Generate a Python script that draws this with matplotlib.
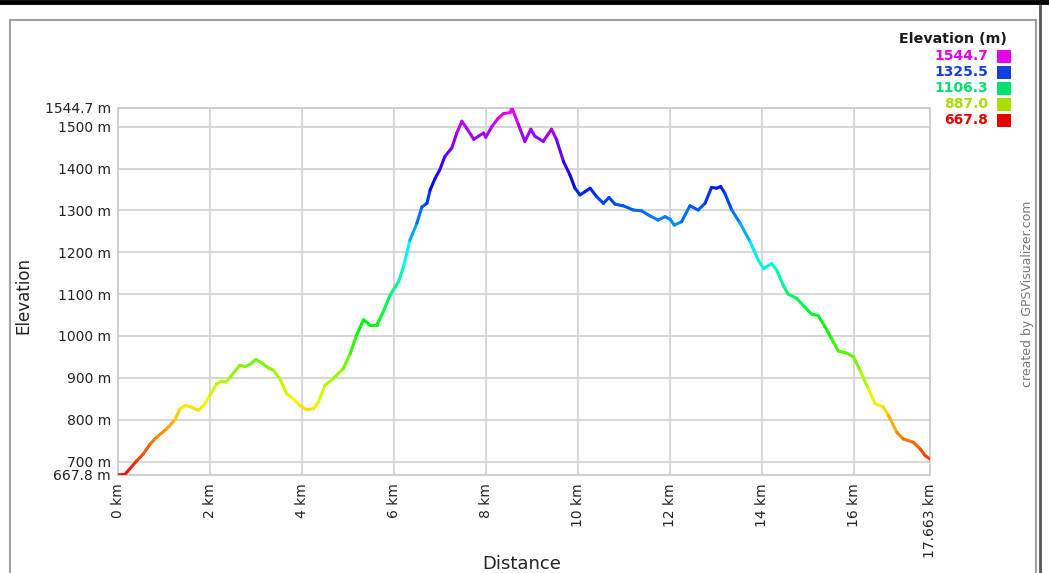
import matplotlib
matplotlib.use("Agg")
import matplotlib.pyplot as plt
import numpy as np
from matplotlib.collections import LineCollection
from matplotlib.colors import hsv_to_rgb
from matplotlib.patches import Rectangle
from matplotlib.lines import Line2D

# ---- data ----
distance_km = [0.00, 0.15, 0.26, 0.41, 0.55, 0.70, 0.84, 1.06, 1.24, 1.35, 1.46, 1.60, 1.75, 1.86,
               2.00, 2.15, 2.26, 2.35, 2.44, 2.65, 2.76, 2.87, 3.00, 3.13, 3.27, 3.38, 3.52, 3.67,
               3.81, 3.96, 4.10, 4.25, 4.36, 4.50, 4.68, 4.90, 5.05, 5.19, 5.34, 5.48, 5.63, 5.77,
               5.92, 6.10, 6.21, 6.35, 6.50, 6.61, 6.72, 6.79, 6.90, 7.00, 7.11, 7.26, 7.37, 7.48,
               7.58, 7.74, 7.95, 8.00, 8.13, 8.27, 8.38, 8.53, 8.57, 8.71, 8.85, 8.98, 9.07, 9.25,
               9.43, 9.54, 9.69, 9.83, 9.94, 10.05, 10.16, 10.27, 10.41, 10.56, 10.68, 10.81, 10.99,
               11.21, 11.39, 11.57, 11.75, 11.90, 12.01, 12.10, 12.26, 12.44, 12.62, 12.77, 12.91,
               13.02, 13.11, 13.20, 13.35, 13.53, 13.75, 13.93, 14.04, 14.22, 14.33, 14.47, 14.58,
               14.76, 14.94, 15.09, 15.23, 15.38, 15.52, 15.67, 15.85, 16.00, 16.14, 16.32, 16.47,
               16.65, 16.76, 16.94, 17.08, 17.30, 17.45, 17.56, 17.663]
elevation_m = [668, 669, 683, 702, 718, 742, 758, 778, 800, 826, 834, 830, 822, 834,
               858, 886, 892, 890, 902, 930, 927, 932, 944, 935, 924, 918, 898, 862,
               850, 834, 824, 826, 842, 882, 898, 922, 958, 1002, 1039, 1026, 1026, 1058,
               1098, 1129, 1165, 1229, 1269, 1308, 1317, 1349, 1377, 1397, 1429, 1449, 1485, 1513,
               1497, 1470, 1485, 1475, 1500, 1520, 1531, 1534, 1544.7, 1505, 1465, 1494, 1477, 1465,
               1494, 1469, 1417, 1385, 1353, 1337, 1345, 1353, 1333, 1317, 1331, 1315, 1311,
               1301, 1299, 1287, 1277, 1285, 1279, 1265, 1273, 1311, 1301, 1317, 1355,
               1353, 1357, 1341, 1301, 1270, 1225, 1181, 1161, 1173, 1157, 1121, 1100,
               1090, 1069, 1052, 1049, 1022, 994, 964, 959, 950, 918, 874, 838,
               830, 810, 770, 754, 746, 730, 714, 706]

elev_min = 667.8
elev_max = 1544.7
total_km = 17.663
x_ticks = [0, 2, 4, 6, 8, 10, 12, 14, 16, 17.663]
x_tick_labels = ["0 km", "2 km", "4 km", "6 km", "8 km", "10 km", "12 km", "14 km", "16 km", "17.663 km"]
y_ticks = [667.8, 700, 800, 900, 1000, 1100, 1200, 1300, 1400, 1500, 1544.7]
y_tick_labels = ["667.8 m", "700 m", "800 m", "900 m", "1000 m", "1100 m", "1200 m", "1300 m",
                 "1400 m", "1500 m", "1544.7 m"]
legend_values = ["1544.7", "1325.5", "1106.3", "887.0", "667.8"]
legend_colors = ["#e600e6", "#1040e0", "#00e070", "#aadd00", "#e60000"]

W, H = 1049, 573
plt.rcParams['font.family'] = ['DejaVu Sans']
fig = plt.figure(figsize=(W / 100, H / 100), dpi=100)
fig.patch.set_facecolor("white")


def fx(px):
    return px / W


def fy(py):
    return 1 - py / H


def elev_color(e):
    frac = (e - elev_min) / (elev_max - elev_min)
    frac = min(max(frac, 0), 1)
    return hsv_to_rgb([frac * 300 / 360, 1.0, 0.97])


# outer decoration
fig.add_artist(Line2D([0, 1], [fy(2), fy(2)], transform=fig.transFigure, color="black", lw=3.5))
fig.add_artist(Rectangle((fx(10), fy(600)), fx(1036) - fx(10), fy(20) - fy(600),
                         transform=fig.transFigure, fill=False, edgecolor="#a0a0a0", lw=1.5))
fig.add_artist(Line2D([fx(1040), fx(1040)], [0, fy(6)], transform=fig.transFigure, color="#555555", lw=2))

# axes
left, right, top, bottom = 118, 930, 108, 475
ax = fig.add_axes([fx(left), fy(bottom), fx(right) - fx(left), fy(top) - fy(bottom)])
ax.set_xlim(0, total_km)
ax.set_ylim(elev_min, elev_max)
for s in ax.spines.values():
    s.set_color("#cccccc")
    s.set_linewidth(1.3)

for xv in x_ticks[1:-1]:
    ax.axvline(xv, color="#d3d3d3", lw=1.3, zorder=1)
for yv in y_ticks[1:-1]:
    ax.axhline(yv, color="#d3d3d3", lw=1.3, zorder=1)

ax.set_xticks(x_ticks)
ax.set_xticklabels(x_tick_labels, rotation=90, fontsize=10, color="#222222")
ax.set_yticks(y_ticks)
ax.set_yticklabels(y_tick_labels, fontsize=10, color="#222222")
ax.tick_params(axis="both", length=0)
ax.tick_params(axis="x", pad=6)
ax.tick_params(axis="y", pad=5)

x = np.array(distance_km)
y = np.array(elevation_m)
pts = np.column_stack([x, y]).reshape(-1, 1, 2)
segs = np.concatenate([pts[:-1], pts[1:]], axis=1)
cols = [elev_color((a + b) / 2) for a, b in zip(y[:-1], y[1:])]
lc = LineCollection(segs, colors=cols, linewidths=2.2, capstyle="round", joinstyle="round", zorder=3)
ax.add_collection(lc)

# axis titles
fig.text(fx(23), fy(295), "Elevation", rotation=90, ha="center", va="center", fontsize=12, color="#222222")
fig.text(fx(522), fy(564), "Distance", ha="center", va="center", fontsize=13, color="#222222")

# legend
fig.text(fx(1007), fy(39), "Elevation (m)", ha="right", va="center", fontsize=10.3,
         fontweight="bold", color="#1a1a1a")
for i, (lab, c) in enumerate(zip(legend_values, legend_colors)):
    yc = 56.5 + 16 * i
    fig.text(fx(988), fy(yc), lab, ha="right", va="center", fontsize=10, fontweight="bold", color=c)
    fig.add_artist(Rectangle((fx(997), fy(yc + 6.5)), fx(14), 13 / H, transform=fig.transFigure,
                             facecolor=c, edgecolor="none"))

fig.text(fx(1028), fy(294), "created by GPSVisualizer.com", rotation=90, ha="center", va="center",
         fontsize=9, color="#777777")

fig.savefig("out.png", dpi=100)
